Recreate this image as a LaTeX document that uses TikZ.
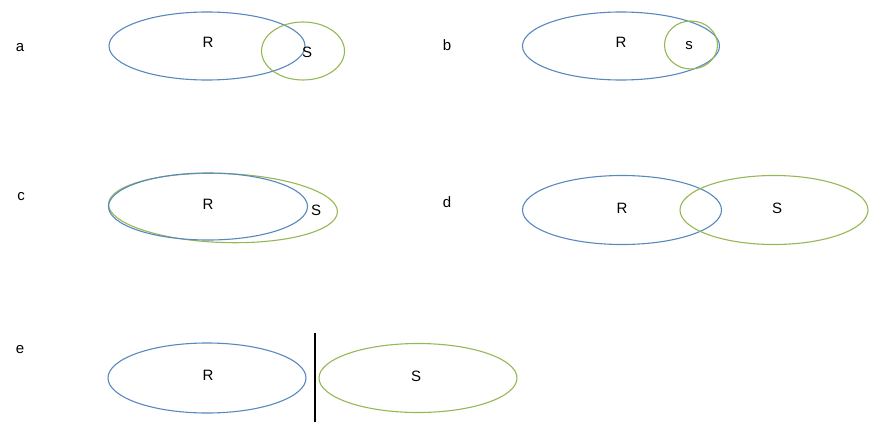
\documentclass[tikz,border=0pt]{standalone}
\usepackage{fontspec}
\setmainfont{Liberation Sans}
\usetikzlibrary{shapes.geometric}
\definecolor{rblue}{RGB}{88,136,190}
\definecolor{sgreen}{RGB}{150,183,85}
\tikzset{
  setR/.style={draw=rblue, line width=1.1pt, ellipse, inner sep=0pt},
  setS/.style={draw=sgreen, line width=1.1pt, ellipse, inner sep=0pt},
  lbl/.style={font=\fontsize{15}{17}\selectfont, inner sep=0pt},
}
\begin{document}
\begin{tikzpicture}[x=1pt, y=-1pt]
\useasboundingbox (0,0) rectangle (869,423);
% a
\node[lbl] (la) at (20,48) {a};
\node[setR, minimum width=196pt, minimum height=68pt] (aR) at (207,46) {};
\node[setS, minimum width=83pt, minimum height=58pt] (aS) at (303,51) {};
\node[lbl] (aRt) at (208,42) {R};
\node[lbl] (aSt) at (307,52) {S};
% b
\node[lbl] (lb) at (447,45) {b};
\node[setR, minimum width=197pt, minimum height=68pt] (bR) at (621,46) {};
\node[setS, minimum width=53pt, minimum height=48pt] (bS) at (691,45) {};
\node[lbl] (bRt) at (621,42) {R};
\node[lbl] (bSt) at (689,46) {s};
% c
\node[lbl] (lc) at (21,197) {c};
\node[setS, minimum width=229pt, minimum height=69pt, rotate=-2] (cS) at (223,208) {};
\node[setR, minimum width=199pt, minimum height=67pt] (cR) at (208,206.5) {};
\node[lbl] (cRt) at (208,204) {R};
\node[lbl] (cSt) at (316,210) {S};
% d
\node[lbl] (ld) at (447,202) {d};
\node[setR, minimum width=199pt, minimum height=69pt] (dR) at (622,210) {};
\node[setS, minimum width=188pt, minimum height=69pt] (dS) at (774,210) {};
\node[lbl] (dRt) at (622,208) {R};
\node[lbl] (dSt) at (777,208) {S};
% e
\node[lbl] (le) at (20,350) {e};
\node[setR, minimum width=198pt, minimum height=70pt] (eR) at (207,378) {};
\node[setS, minimum width=198pt, minimum height=69pt] (eS) at (418,378) {};
\node[lbl] (eRt) at (208,375) {R};
\node[lbl] (eSt) at (416,376) {S};
\coordinate (vt) at (315,333);
\coordinate (vb) at (315,422);
\draw[line width=1.2pt] (vt) -- (vb);
\end{tikzpicture}
\end{document}
